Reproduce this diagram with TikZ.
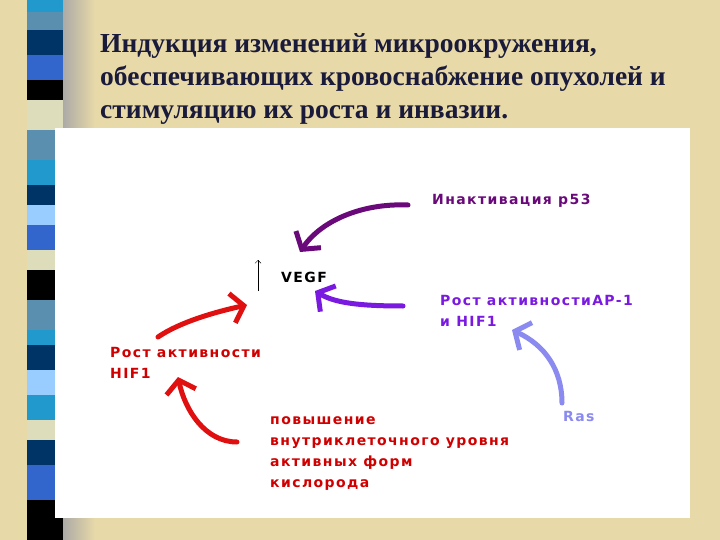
\documentclass[tikz,border=0pt]{standalone}
\usepackage{fontspec}
\setmainfont{Liberation Serif}
\newfontfamily\dg[LetterSpace=10]{DejaVu Sans}
\usetikzlibrary{arrows.meta}
\definecolor{bg}{HTML}{E8D9A8}
\definecolor{cA}{HTML}{2299CC}
\definecolor{cB}{HTML}{5A8FB0}
\definecolor{cC}{HTML}{003366}
\definecolor{cD}{HTML}{3366CC}
\definecolor{cE}{HTML}{DDDDBB}
\definecolor{cF}{HTML}{99CCFF}
\definecolor{cK}{HTML}{000000}
\definecolor{ttl}{HTML}{1A1A3A}
\definecolor{redc}{HTML}{E01010}
\definecolor{redt}{HTML}{D00000}
\definecolor{purp}{HTML}{6A0A7A}
\definecolor{viol}{HTML}{7A1AE0}
\definecolor{lav}{HTML}{8A8AF0}
\tikzset{lbl/.style={font=\dg\bfseries\fontsize{14}{21}\selectfont,anchor=west,align=left,inner sep=0pt},
 arr/.style={line width=5pt,line cap=round,-{Straight Barb[length=12pt,width=30pt,line width=5pt]}}}
\begin{document}
\begin{tikzpicture}[x=1pt,y=-1pt]
\useasboundingbox (0,0) rectangle (720,540);
\fill[bg] (0,0) rectangle (720,540);
\shade[left color=gray!70,right color=bg] (60,0) rectangle (95,540);
\foreach \a/\b/\c in {0/12/cA,12/30/cB,30/55/cC,55/80/cD,80/100/cK,100/130/cE,130/160/cB,160/185/cA,185/205/cC,205/225/cF,225/250/cD,250/270/cE,270/300/cK,300/330/cB,330/345/cA,345/370/cC,370/395/cF,395/420/cA,420/440/cE,440/465/cC,465/500/cD,500/540/cK}
 \fill[\c] (27,\a) rectangle (63,\b);
\node[font=\bfseries\fontsize{27.5}{33}\selectfont,color=ttl,anchor=north west,align=left,inner sep=0pt] (title) at (100,33)
 {Индукция изменений микроокружения,\\обеспечивающих кровоснабжение опухолей и\\стимуляцию их роста и инвазии.};
\fill[white] (55,128) rectangle (690,518);
\node[lbl,purp] (p53) at (432,201) {Инактивация p53};
\node[lbl,black] (vegf) at (281,277) {VEGF};
\node[lbl,viol] (ap1) at (440,311) {Рост активностиAP-1\\и HIF1};
\node[lbl,redt] (hif) at (110,363) {Рост активности\\HIF1};
\node[lbl,lav] (ras) at (563,416) {Ras};
\node[lbl,redt] (ros) at (270,454) {повышение\\внутриклеточного уровня\\активных форм\\кислорода};
\coordinate (up0) at (258,291); \coordinate (up1) at (258,260);
\draw[-{Straight Barb[length=3pt,width=6pt]},thin] (up0) -- (up1);
\coordinate (t1) at (408,205); \coordinate (h1) at (300,252);
\draw[arr,purp] (t1) .. controls (360,203) and (320,222) .. (h1);
\coordinate (t2) at (403,306); \coordinate (h2) at (315,291);
\draw[arr,viol] (t2) .. controls (360,306) and (335,303) .. (h2);
\coordinate (t3) at (158,337); \coordinate (h3) at (247,305);
\draw[arr,redc] (t3) .. controls (180,322) and (215,312) .. (h3);
\coordinate (t4) at (237,442); \coordinate (h4) at (178,377);
\draw[arr,redc] (t4) .. controls (205,442) and (185,410) .. (h4);
\coordinate (t5) at (562,403); \coordinate (h5) at (512,330);
\draw[arr,lav] (t5) .. controls (562,370) and (545,345) .. (h5);
\end{tikzpicture}
\end{document}
